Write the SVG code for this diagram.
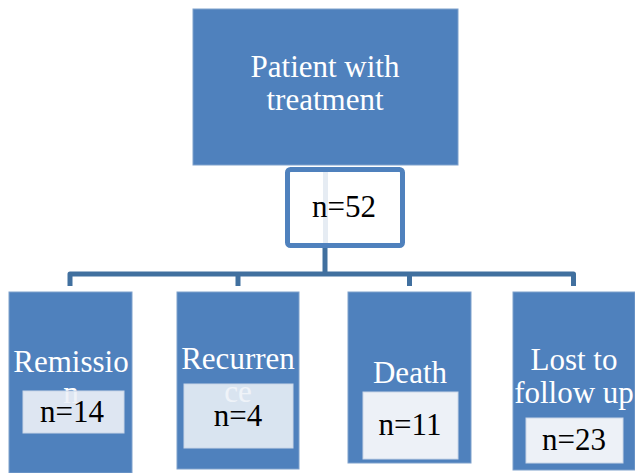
<svg xmlns="http://www.w3.org/2000/svg" width="635" height="473" viewBox="0 0 635 473">
<style>
.box{fill:#4f81bd;stroke:#7fa1cc;stroke-width:1}
.inner{fill:#edf1f7;stroke:#c9d6e8;stroke-width:1}
.wt{font-family:"Liberation Serif","Times New Roman",serif;font-size:31px;fill:#ffffff;text-anchor:middle}
.bt{font-family:"Liberation Serif","Times New Roman",serif;font-size:31px;fill:#000000;text-anchor:middle}
.conn{fill:none;stroke:#41709f;stroke-width:5;stroke-linejoin:round}
</style>
<rect width="635" height="473" fill="#ffffff"/>
<g id="connectors">
<path class="conn" d="M325 247 V274"/>
<path class="conn" d="M70 286 V274 H573.5 V286"/>
<path class="conn" d="M238 274 V286"/>
<path class="conn" d="M409.5 274 V286"/>
</g>
<g id="top">
<rect class="box" x="193" y="9" width="265" height="156"/>
<text class="wt" x="325" y="77">Patient with</text>
<text class="wt" x="325" y="110">treatment</text>
</g>
<g id="total">
<rect x="287.5" y="169.5" width="115" height="76" rx="3" fill="#ffffff" stroke="#4f81bd" stroke-width="5"/>
<rect x="323" y="172" width="5" height="71" fill="#e6ecf3"/>
<text class="bt" x="344" y="217">n=52</text>
</g>
<g id="remission">
<rect class="box" x="9" y="292" width="123" height="181"/>
<text class="wt" x="71" y="372">Remissio</text>
<text class="wt" x="71" y="403">n</text>
<rect class="inner" x="23" y="391" width="101" height="42" fill-opacity="0.9"/>
<text class="bt" x="72" y="422">n=14</text>
</g>
<g id="recurrence">
<rect class="box" x="177" y="292" width="122" height="177"/>
<text class="wt" x="238" y="369">Recurren</text>
<text class="wt" x="238" y="402">ce</text>
<rect class="inner" x="184" y="384" width="109" height="64" fill-opacity="0.88"/>
<text class="bt" x="238" y="426">n=4</text>
</g>
<g id="death">
<rect class="box" x="348" y="292" width="123" height="171"/>
<text class="wt" x="410" y="383">Death</text>
<rect class="inner" x="363" y="392" width="95" height="67"/>
<text class="bt" x="410" y="435">n=11</text>
</g>
<g id="lost">
<rect class="box" x="513" y="292" width="122" height="178"/>
<text class="wt" x="574" y="370">Lost to</text>
<text class="wt" x="574" y="403">follow up</text>
<rect class="inner" x="526" y="418" width="97" height="45"/>
<text class="bt" x="574" y="450">n=23</text>
</g>
</svg>
